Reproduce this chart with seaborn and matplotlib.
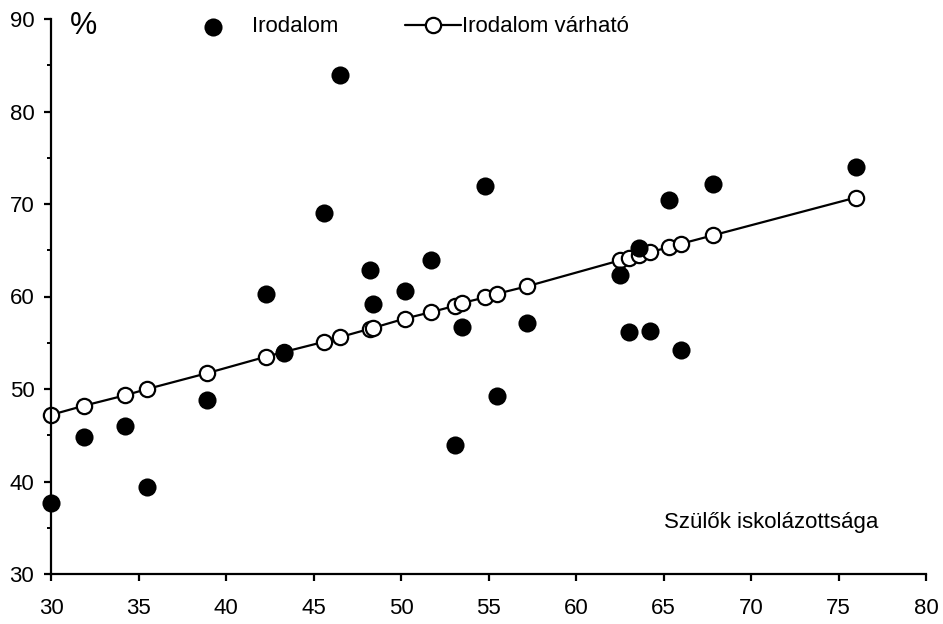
import numpy as np
import pandas as pd
import seaborn as sns
import matplotlib.pyplot as plt
from matplotlib.ticker import MultipleLocator

sns.set_style("ticks")
plt.rcParams['font.family'] = ['Liberation Sans', 'DejaVu Sans']
plt.rcParams['text.color'] = 'black'

# parents' schooling (x), observed and expected literature scores (%)
szulok = [30.0, 31.9, 34.2, 35.5, 38.9, 42.3, 43.3, 45.6, 46.5, 48.2, 48.4, 50.2, 51.7,
          53.1, 53.5, 54.8, 55.5, 57.2, 62.5, 63.0, 63.6, 64.2, 65.3, 66.0, 67.8, 76.0]
irodalom = [37.7, 44.8, 46.0, 39.4, 48.8, 60.3, 53.9, 69.0, 83.9, 62.9, 59.2, 60.6, 64.0,
            43.9, 56.7, 71.9, 49.2, 57.1, 62.3, 56.2, 65.2, 56.3, 70.4, 54.2, 72.2, 74.0]
varhato = [47.2, 48.2, 49.3, 50.0, 51.7, 53.5, 54.0, 55.1, 55.6, 56.5, 56.6, 57.6, 58.3,
           59.0, 59.3, 59.9, 60.3, 61.1, 63.9, 64.2, 64.5, 64.8, 65.3, 65.7, 66.6, 70.7]

df = pd.DataFrame({'x': szulok, 'Irodalom': irodalom, 'Irodalom várható': varhato})

fig = plt.figure(figsize=(9.43, 6.24), dpi=100)
ax = fig.add_axes([51/943, 50/624, 875/943, 555/624])

sns.lineplot(data=df, x='x', y='Irodalom várható', ax=ax, color='black', lw=1.6,
             marker='o', markersize=11, markerfacecolor='white', markeredgecolor='black',
             markeredgewidth=1.6, estimator=None, sort=True, label='Irodalom várható',
             zorder=2, clip_on=False)
sns.scatterplot(data=df, x='x', y='Irodalom', ax=ax, color='black', s=170,
                linewidth=0, label='Irodalom', zorder=3, clip_on=False)

ax.set_xlim(30, 80)
ax.set_ylim(30, 90)
ax.set_xlabel('')
ax.set_ylabel('')
ax.xaxis.set_major_locator(MultipleLocator(5))
ax.yaxis.set_major_locator(MultipleLocator(10))
ax.yaxis.set_minor_locator(MultipleLocator(5))

for s in ['top', 'right']:
    ax.spines[s].set_visible(False)
for s in ['left', 'bottom']:
    ax.spines[s].set_linewidth(1.6)
    ax.spines[s].set_color('black')

ax.tick_params(which='major', direction='out', length=5, width=1.6, labelsize=16,
               colors='black', labelcolor='black')
ax.tick_params(axis='y', which='minor', direction='out', length=3, width=1.4, colors='black')
ax.tick_params(axis='x', pad=12)
ax.tick_params(axis='y', pad=7)

# two legends so each entry gets its own spacing
h, l = ax.get_legend_handles_labels()
leg1 = ax.legend([h[1]], [l[1]], frameon=False, loc='center left',
                 bbox_to_anchor=(0.1537, 0.9856), borderpad=0, borderaxespad=0,
                 handlelength=2.5, handletextpad=0.5, fontsize=16)
ax.add_artist(leg1)
ax.legend([h[0]], [l[0]], frameon=False, loc='center left',
          bbox_to_anchor=(0.4046, 0.9856), borderpad=0, borderaxespad=0,
          handlelength=2.5, handletextpad=0.08, fontsize=16)

ax.text(31.1, 89.2, '%', fontsize=22, ha='left', va='center')
ax.text(77.3, 35.6, 'Szülők iskolázottsága', fontsize=16, ha='right', va='center')

fig.savefig('out.png', dpi=100)
